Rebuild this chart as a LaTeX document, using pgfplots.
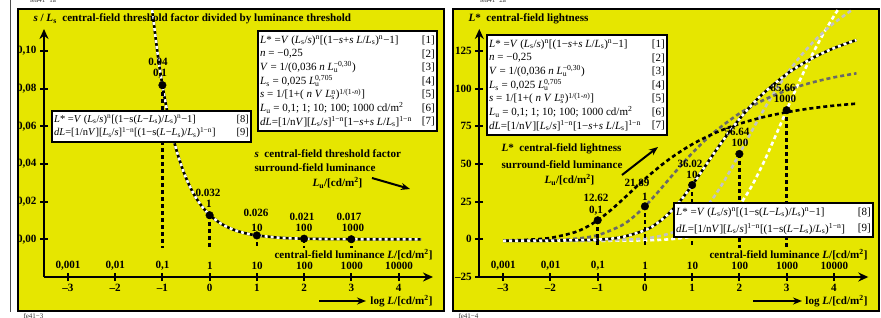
\documentclass[border=0pt]{standalone}
\usepackage{pgfplots}
\pgfplotsset{compat=1.18}
\usepackage{fontspec}
\setmainfont{Liberation Serif}
\usetikzlibrary{arrows.meta}
\definecolor{panelyellow}{RGB}{230,230,0}
\definecolor{midgray}{RGB}{105,105,105}
\definecolor{lightgray}{RGB}{195,195,195}
\newcommand{\lab}{\fontsize{11.1}{13}\selectfont\bfseries}
\newcommand{\eqf}{\fontsize{11}{13}\selectfont}
\newcommand{\eqs}{\fontsize{10.5}{12}\selectfont}
\newcommand{\ssub}[1]{\textsubscript{#1}}
\newcommand{\ssup}[1]{\textsuperscript{#1}}
\newcommand{\Lsu}[2]{\textit{L}\rlap{\textsubscript{#1}}\textsuperscript{#2}}
\pgfplotsset{
  panelaxis/.style={
    anchor=south west, width=389pt, height=248pt, scale only axis,
    xmin=-3.507, xmax=4.73,
    axis lines=left,
    axis line style={line width=2pt, -{Stealth[length=10pt,width=9pt]}},
    clip=false,
    xtick={-3,...,4}, xticklabels={–3,–2,–1,0,1,2,3,4},
    tick style={black, line width=2pt},
    major tick length=8pt, tick align=center,
    tick label style={font=\lab},
  },
  bw/.style={black, line width=2.6pt},
  wdash/.style={white, line width=2.6pt, dash pattern=on 3pt off 3pt},
  vdash/.style={black, line width=2.6pt, dash pattern=on 4pt off 3pt},
  dot/.style={only marks, mark=*, mark size=3.8pt, black},
}
\begin{document}
\begin{tikzpicture}
\useasboundingbox (0,0) rectangle (881pt,317pt);
\begin{scope}[x=1pt,y=1pt]
\draw[gray!60!black, line width=1pt] (10,317) -- (10,5);
\node[font=\fontsize{7}{8}\selectfont, text=black!80] at (43,317) {lea41−1a};
\node[font=\fontsize{7}{8}\selectfont, text=black!80] at (493,317) {lea41−2a};
\node[font=\fontsize{7}{8}\selectfont, text=black!80, anchor=west] at (20,1) {fe41−3};
\node[font=\fontsize{7}{8}\selectfont, text=black!80, anchor=west] at (455,1) {fe41−4};
\fill[panelyellow,draw=black,line width=2pt] (18,6.5) rectangle (443.5,308.5);
\fill[panelyellow,draw=black,line width=2pt] (453,6.5) rectangle (878.5,308.5);
\end{scope}

% ---------------- left panel ----------------
\begin{axis}[panelaxis, at={(44pt,40pt)},
  ymin=-0.02, ymax=0.1116,
  ytick={0,0.02,0.04,0.06,0.08,0.1},
  yticklabels={{0,00},{0,02},{0,04},{0,06},{0,08},{0,10}},
]
\addplot[bw, smooth] coordinates {(-1.215,0.1216) (-1.1,0.0983) (-1,0.0818) (-0.9,0.0681) (-0.8,0.0566) (-0.7,0.0471) (-0.6,0.0392) (-0.5,0.0326) (-0.4,0.0271) (-0.3,0.0225) (-0.2,0.0187) (-0.1,0.0156) (0,0.01295) (0.2,0.00896) (0.4,0.0062) (0.6,0.00429) (0.8,0.00296) (1,0.00205) (1.5,0.00081) (2,0.00032) (2.5,0.00013) (3,0.00005) (3.5,0.00002) (4,0.00001) (4.48,0.000004)};
\addplot[wdash, smooth] coordinates {(-1.215,0.1216) (-1.1,0.0983) (-1,0.0818) (-0.9,0.0681) (-0.8,0.0566) (-0.7,0.0471) (-0.6,0.0392) (-0.5,0.0326) (-0.4,0.0271) (-0.3,0.0225) (-0.2,0.0187) (-0.1,0.0156) (0,0.01295) (0.2,0.00896) (0.4,0.0062) (0.6,0.00429) (0.8,0.00296) (1,0.00205) (1.5,0.00081) (2,0.00032) (2.5,0.00013) (3,0.00005) (3.5,0.00002) (4,0.00001) (4.48,0.000004)};
\addplot[vdash] coordinates {(-1,0.0818) (-1,-0.0045)};
\addplot[vdash] coordinates {(0,0.01295) (0,-0.0045)};
\addplot[vdash] coordinates {(1,0.00205) (1,-0.0045)};
\addplot[vdash] coordinates {(2,0.00032) (2,-0.0045)};
\addplot[vdash] coordinates {(3,0.00005) (3,-0.0045)};
\addplot[dot] coordinates {(-1,0.0818) (0,0.0128) (1,0.00205) (2,0.00033) (3,0.00005)};
\end{axis}

% ---------------- right panel ----------------
\begin{axis}[panelaxis, at={(479.3pt,40pt)},
  ymin=-25, ymax=139.5,
  ytick={-25,0,25,50,75,100,125},
  yticklabels={–25,0,25,50,75,100,125},
]
\addplot[wdash, smooth, dash pattern=on 4pt off 3pt] coordinates {(-3,-0.99) (-1,-0.96) (0,-0.68) (0.5,-0.03) (1,1.98) (1.5,7.83) (1.75,13.68) (2,22.49) (2.25,34.69) (2.5,50.04) (2.75,67.47) (3,85.65) (3.25,103.36) (3.5,119.86) (3.75,134.76) (4,148.0) (4.083,152)};
\addplot[lightgray, line width=2.6pt, smooth, dash pattern=on 4pt off 3pt] coordinates {(-3,-0.99) (-2,-0.98) (-1,-0.83) (0,0.54) (0.5,3.63) (0.75,6.87) (1,11.99) (1.25,19.58) (1.5,29.86) (1.75,42.54) (2,56.65) (2.25,71.11) (2.5,85.04) (2.75,97.93) (3,109.5) (3.25,119.76) (3.5,128.75) (3.75,136.58) (4,143.4) (4.378,152)};
\addplot[midgray, line width=2.6pt, smooth, dash pattern=on 4pt off 3pt] coordinates {(-3,-0.94) (-2.5,-0.85) (-2,-0.58) (-1.5,0.25) (-1,2.72) (-0.5,9.11) (-0.25,14.66) (0,21.89) (0.25,30.39) (0.5,39.5) (0.75,48.59) (1,57.15) (1.25,64.97) (1.5,71.93) (2,83.45) (2.5,92.19) (3,98.77) (3.5,103.7) (4,107.4) (4.48,110.1)};
\addplot[black, line width=2.6pt, smooth, dash pattern=on 4pt off 3pt] coordinates {(-3,-0.77) (-2.5,-0.34) (-2,0.95) (-1.5,4.54) (-1.25,7.91) (-1,12.62) (-0.75,18.64) (-0.5,25.58) (0,40.04) (0.5,52.83) (1,63.0) (1.5,70.76) (2,76.6) (2.5,81.0) (3,84.3) (3.5,86.8) (4,88.66) (4.48,90.0)};
\addplot[bw, smooth] coordinates {(-3,-0.97) (-2,-0.90) (-1,-0.20) (-0.5,1.41) (0,6.0) (0.25,10.46) (0.5,16.94) (0.75,25.58) (1,35.97) (1.25,47.32) (1.5,58.77) (1.75,69.71) (2,79.73) (2.25,88.71) (2.5,96.63) (3,109.6) (3.5,119.4) (4,126.8) (4.48,132.2)};
\addplot[wdash, smooth] coordinates {(-3,-0.97) (-2,-0.90) (-1,-0.20) (-0.5,1.41) (0,6.0) (0.25,10.46) (0.5,16.94) (0.75,25.58) (1,35.97) (1.25,47.32) (1.5,58.77) (1.75,69.71) (2,79.73) (2.25,88.71) (2.5,96.63) (3,109.6) (3.5,119.4) (4,126.8) (4.48,132.2)};
\addplot[vdash] coordinates {(-1,12.62) (-1,-5.5)};
\addplot[vdash] coordinates {(0,21.89) (0,-5.5)};
\addplot[vdash] coordinates {(1,36.02) (1,-5.5)};
\addplot[vdash] coordinates {(2,56.64) (2,-5.5)};
\addplot[vdash] coordinates {(3,85.66) (3,-5.5)};
\addplot[dot] coordinates {(-1,12.62) (0,21.89) (1,36.02) (2,56.64) (3,85.66)};
\end{axis}

\begin{scope}[x=1pt,y=1pt]
% ---- left panel texts ----
\foreach \xx/\tt in {68/{0,001},115.3/{0,01},162.6/{0,1},209.9/1,257.2/10,304.5/100,351.8/1000,399.1/10000}
  \node[font=\lab] at (\xx,51) {\tt};
\node[font=\lab] at (158,255) {0.04};
\node[font=\lab] at (160,243) {0,1};
\node[font=\lab] at (208,124) {0.032};
\node[font=\lab] at (209,113) {1};
\node[font=\lab] at (256,104) {0.026};
\node[font=\lab] at (257,89) {10};
\node[font=\lab] at (302,100) {0.021};
\node[font=\lab] at (304,89) {100};
\node[font=\lab] at (349,100) {0.017};
\node[font=\lab] at (353,89) {1000};
\node[font=\lab, anchor=west] at (30,298) {\textit{s} / \textit{L}\ssub{s}\ \ central-field threshold factor divided by luminance threshold};
\node[font=\lab, anchor=west] at (251,163) {\textit{s}\ \ central-field threshold factor};
\node[font=\lab, anchor=west] at (251,149) {surround-field luminance};
\node[font=\lab, anchor=west] at (309,134) {\textit{L}\ssub{u}/[cd/m\ssup{2}]};
\draw[black, line width=2pt, -{Stealth[length=9pt,width=7pt]}] (372,139) -- (410,128);
\node[font=\lab, anchor=east] at (436,62) {central-field luminance \textit{L}/[cd/m\ssup{2}]};
\node[font=\lab, anchor=east] at (436,16) {log \textit{L}/[cd/m\ssup{2}]};
\draw[black, line width=2pt, -{Stealth[length=9pt,width=7pt]}] (319,16) -- (366,16);
\draw[fill=white, line width=2pt] (258,286) rectangle (437,186);
\begin{scope}[every node/.style={font=\eqf, inner sep=0pt}]
\node[anchor=west] at (260,276.5) {\textit{L}* =\textit{V} (\textit{L}\ssub{s}/\textit{s})\ssup{n}[(1−\textit{s}+\textit{s L}/\textit{L}\ssub{s})\ssup{n}−1]};
\node[anchor=west] at (260,263) {\textit{n} = −0,25};
\node[anchor=west] at (260,249.5) {\textit{V} = 1/(0,036 \textit{n} \Lsu{u}{−0,30})};
\node[anchor=west] at (260,236) {\textit{L}\ssub{s} = 0,025 \Lsu{u}{0,705}};
\node[anchor=west] at (260,222.5) {\textit{s} = 1/[1+( \textit{n V} \Lsu{s}{n})\ssup{1/(1-\textit{n})}]};
\node[anchor=west] at (260,209) {\textit{L}\ssub{u} = 0,1; 1; 10; 100; 1000 cd/m\ssup{2}};
\node[anchor=west] at (260,195.5) {\textit{dL}=[1/n\textit{V}][\textit{L}\ssub{s}/\textit{s}]\ssup{1−n}[1−\textit{s}+\textit{s L}/\textit{L}\ssub{s}]\ssup{1−n}};
\node[anchor=east] at (435,276.5) {[1]};
\node[anchor=east] at (435,263) {[2]};
\node[anchor=east] at (435,249.5) {[3]};
\node[anchor=east] at (435,236) {[4]};
\node[anchor=east] at (435,222.5) {[5]};
\node[anchor=east] at (435,209) {[6]};
\node[anchor=east] at (435,195.5) {[7]};
\end{scope}
\draw[fill=white, line width=2pt] (52,206) rectangle (251,175.3);
\begin{scope}[every node/.style={font=\eqs, inner sep=0pt}]
\node[anchor=west] at (54,197.5) {\textit{L}* =\textit{V} (\textit{L}\ssub{s}/\textit{s})\ssup{n}[(1−s(\textit{L}−\textit{L}\ssub{s})/\textit{L}\ssub{s})\ssup{n}−1]};
\node[anchor=west] at (54,184.3) {\textit{dL}=[1/n\textit{V}][\textit{L}\ssub{s}/\textit{s}]\ssup{1−n}[(1−s(\textit{L}−\textit{L}\ssub{s})/\textit{L}\ssub{s})\ssup{1−n}]};
\node[anchor=east] at (249,197.5) {[8]};
\node[anchor=east] at (249,184.3) {[9]};
\end{scope}

% ---- right panel texts ----
\foreach \xx/\tt in {503.3/{0,001},550.6/{0,01},597.9/{0,1},645.2/1,692.5/10,739.8/100,787.1/1000,834.4/10000}
  \node[font=\lab] at (\xx,51) {\tt};
\node[font=\lab] at (596,119.3) {12.62};
\node[font=\lab] at (596,106.3) {0,1};
\node[font=\lab] at (637,134) {21.89};
\node[font=\lab] at (645,120.3) {1};
\node[font=\lab] at (690,153) {36.02};
\node[font=\lab] at (692,142) {10};
\node[font=\lab] at (737,185.3) {56.64};
\node[font=\lab] at (740,173.7) {100};
\node[font=\lab] at (783,228.7) {85.66};
\node[font=\lab] at (785,217.7) {1000};
\node[font=\lab, anchor=west] at (465,298) {\textit{L}*\ \ central-field lightness};
\node[font=\lab, anchor=west] at (498,168) {\textit{L}*\ \ central-field lightness};
\node[font=\lab, anchor=west] at (498,152) {surround-field luminance};
\node[font=\lab, anchor=west] at (541,137) {\textit{L}\ssub{u}/[cd/m\ssup{2}]};
\draw[black, line width=2pt, -{Stealth[length=9pt,width=7pt]}] (622,142) -- (658,170);
\node[font=\lab, anchor=east] at (871,62) {central-field luminance \textit{L}/[cd/m\ssup{2}]};
\node[font=\lab, anchor=east] at (871,16) {log \textit{L}/[cd/m\ssup{2}]};
\draw[black, line width=2pt, -{Stealth[length=9pt,width=7pt]}] (753,16) -- (802,16);
\draw[fill=white, line width=2pt] (487,282) rectangle (667,182);
\begin{scope}[every node/.style={font=\eqf, inner sep=0pt}]
\node[anchor=west] at (489,272.5) {\textit{L}* =\textit{V} (\textit{L}\ssub{s}/\textit{s})\ssup{n}[(1−\textit{s}+\textit{s L}/\textit{L}\ssub{s})\ssup{n}−1]};
\node[anchor=west] at (489,259) {\textit{n} = −0,25};
\node[anchor=west] at (489,245.5) {\textit{V} = 1/(0,036 \textit{n} \Lsu{u}{−0,30})};
\node[anchor=west] at (489,232) {\textit{L}\ssub{s} = 0,025 \Lsu{u}{0,705}};
\node[anchor=west] at (489,218.5) {\textit{s} = 1/[1+( \textit{n V} \Lsu{s}{n})\ssup{1/(1-\textit{n})}]};
\node[anchor=west] at (489,205) {\textit{L}\ssub{u} = 0,1; 1; 10; 100; 1000 cd/m\ssup{2}};
\node[anchor=west] at (489,191.5) {\textit{dL}=[1/n\textit{V}][\textit{L}\ssub{s}/\textit{s}]\ssup{1−n}[1−\textit{s}+\textit{s L}/\textit{L}\ssub{s}]\ssup{1−n}};
\node[anchor=east] at (665,272.5) {[1]};
\node[anchor=east] at (665,259) {[2]};
\node[anchor=east] at (665,245.5) {[3]};
\node[anchor=east] at (665,232) {[4]};
\node[anchor=east] at (665,218.5) {[5]};
\node[anchor=east] at (665,205) {[6]};
\node[anchor=east] at (665,191.5) {[7]};
\end{scope}
\draw[fill=white, line width=2pt] (674,114) rectangle (873,80);
\begin{scope}[every node/.style={font=\eqf, inner sep=0pt}]
\node[anchor=west] at (676,104.3) {\textit{L}* =\textit{V} (\textit{L}\ssub{s}/\textit{s})\ssup{n}[(1−s(\textit{L}−\textit{L}\ssub{s})/\textit{L}\ssub{s})\ssup{n}−1]};
\node[anchor=west] at (676,88.3) {\textit{dL}=[1/n\textit{V}][\textit{L}\ssub{s}/\textit{s}]\ssup{1−n}[(1−s(\textit{L}−\textit{L}\ssub{s})/\textit{L}\ssub{s})\ssup{1−n}]};
\node[anchor=east] at (871,104.3) {[8]};
\node[anchor=east] at (871,88.3) {[9]};
\end{scope}
\end{scope}
\end{tikzpicture}
\end{document}
